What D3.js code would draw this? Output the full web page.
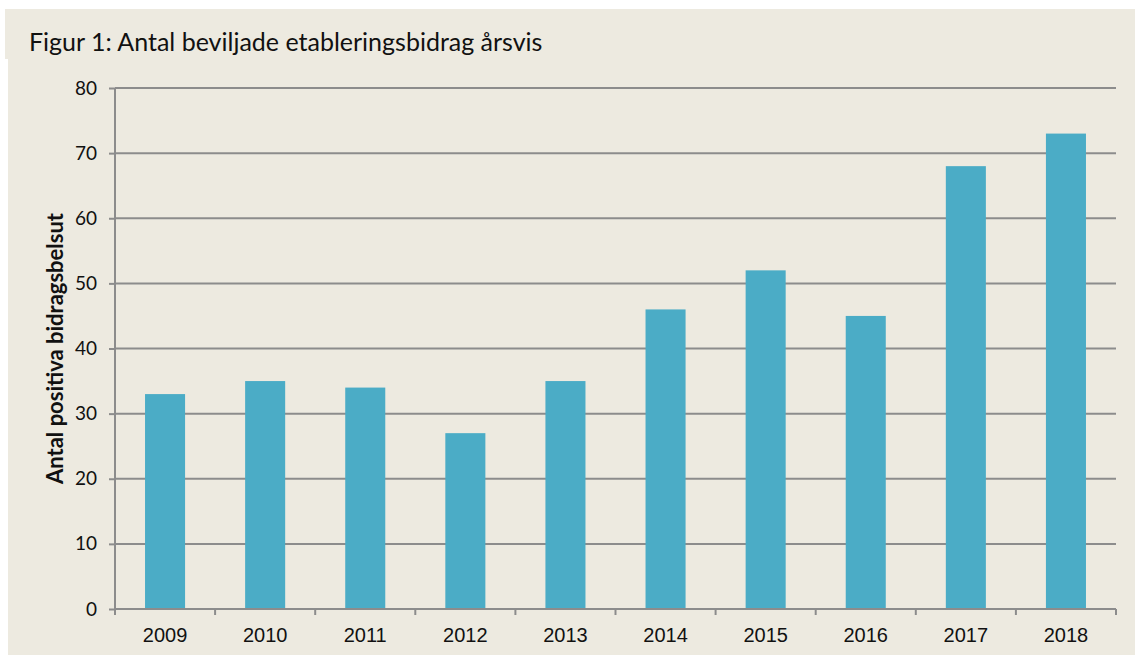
<!DOCTYPE html>
<html>
<head>
<meta charset="utf-8">
<script src="https://cdn.jsdelivr.net/npm/d3@7"></script>
<style>
  body { margin: 0; background: #ffffff; }
</style>
</head>
<body>
<div id="chart"></div>
<script>
// data
let years = ["2009", "2010", "2011", "2012", "2013", "2014", "2015", "2016", "2017", "2018"];
let counts = [33, 35, 34, 27, 35, 46, 52, 45, 68, 73];
let yTicks = [0, 10, 20, 30, 40, 50, 60, 70, 80];

let W = 1135, H = 655;
let margin = {top: 88, right: 19, bottom: 46, left: 115},
    width = W - margin.left - margin.right,
    height = H - margin.top - margin.bottom;

let root = d3.select("#chart")
    .append("svg")
    .attr("width", W)
    .attr("height", H);

// beige panels (title strip + chart area)
root.append("rect").attr("x", 5).attr("y", 9).attr("width", W - 5).attr("height", 50).attr("fill", "#edeae0");
root.append("rect").attr("x", 8).attr("y", 58).attr("width", W - 8).attr("height", H - 58).attr("fill", "#edeae0");

root.append("text")
    .attr("x", 29)
    .attr("y", 51)
    .style("font-family", "Lato, 'Open Sans', sans-serif")
    .style("font-size", "25px")
    .attr("fill", "#111")
    .text("Figur 1: Antal beviljade etableringsbidrag årsvis");

let svg = root.append("g")
    .attr("transform", "translate(" + margin.left + "," + margin.top + ")");

let x = d3.scaleBand()
    .domain(years)
    .range([0, width])
    .paddingInner(0.6)
    .paddingOuter(0.3);

let y = d3.scaleLinear()
    .domain([0, 80])
    .range([height, 0]);

// gridlines
svg.selectAll(".grid")
    .data(yTicks.filter(d => d > 0))
    .enter()
    .append("line")
    .attr("x1", 0)
    .attr("x2", width)
    .attr("y1", d => y(d))
    .attr("y2", d => y(d))
    .attr("stroke", "#8c8c8c")
    .attr("stroke-width", 2);

// bars
svg.selectAll(".bar")
    .data(years)
    .enter()
    .append("rect")
    .attr("x", d => x(d))
    .attr("width", x.bandwidth())
    .attr("y", (d, i) => y(counts[i]))
    .attr("height", (d, i) => height - y(counts[i]))
    .attr("fill", "#4bacc6");

// y axis
let yAxis = svg.append("g")
    .call(d3.axisLeft(y).tickValues(yTicks).tickSize(6).tickPadding(12));
yAxis.select(".domain").attr("stroke", "#8c8c8c").attr("stroke-width", 2).attr("d", "M0," + (height + 6) + "V0");
yAxis.selectAll(".tick line").attr("stroke", "#8c8c8c").attr("stroke-width", 2);
yAxis.selectAll(".tick text")
    .style("font-family", "Lato, 'Open Sans', sans-serif")
    .style("font-size", "19px")
    .attr("fill", "#111");

// x axis: ticks at category boundaries
let step = width / years.length;
let xAxis = svg.append("g").attr("transform", "translate(0," + height + ")");
xAxis.append("line")
    .attr("x1", 0).attr("x2", width)
    .attr("stroke", "#8c8c8c").attr("stroke-width", 2);
xAxis.selectAll(".xt")
    .data(d3.range(years.length + 1))
    .enter()
    .append("line")
    .attr("x1", d => d * step).attr("x2", d => d * step)
    .attr("y1", 0).attr("y2", 6)
    .attr("stroke", "#8c8c8c").attr("stroke-width", 2);
xAxis.selectAll(".xl")
    .data(years)
    .enter()
    .append("text")
    .attr("x", d => x(d) + x.bandwidth() / 2)
    .attr("y", 33)
    .attr("text-anchor", "middle")
    .style("font-family", "'Liberation Sans', Arial, sans-serif")
    .style("font-size", "20px")
    .attr("fill", "#111")
    .text(d => d);

// y axis title
root.append("text")
    .attr("transform", "translate(63," + (margin.top + height / 2) + ") rotate(-90)")
    .attr("text-anchor", "middle")
    .style("font-family", "Lato, 'Open Sans', sans-serif")
    .style("font-weight", "bold")
    .style("font-size", "22px")
    .attr("fill", "#111")
    .text("Antal positiva bidragsbelsut");
</script>
</body>
</html>
